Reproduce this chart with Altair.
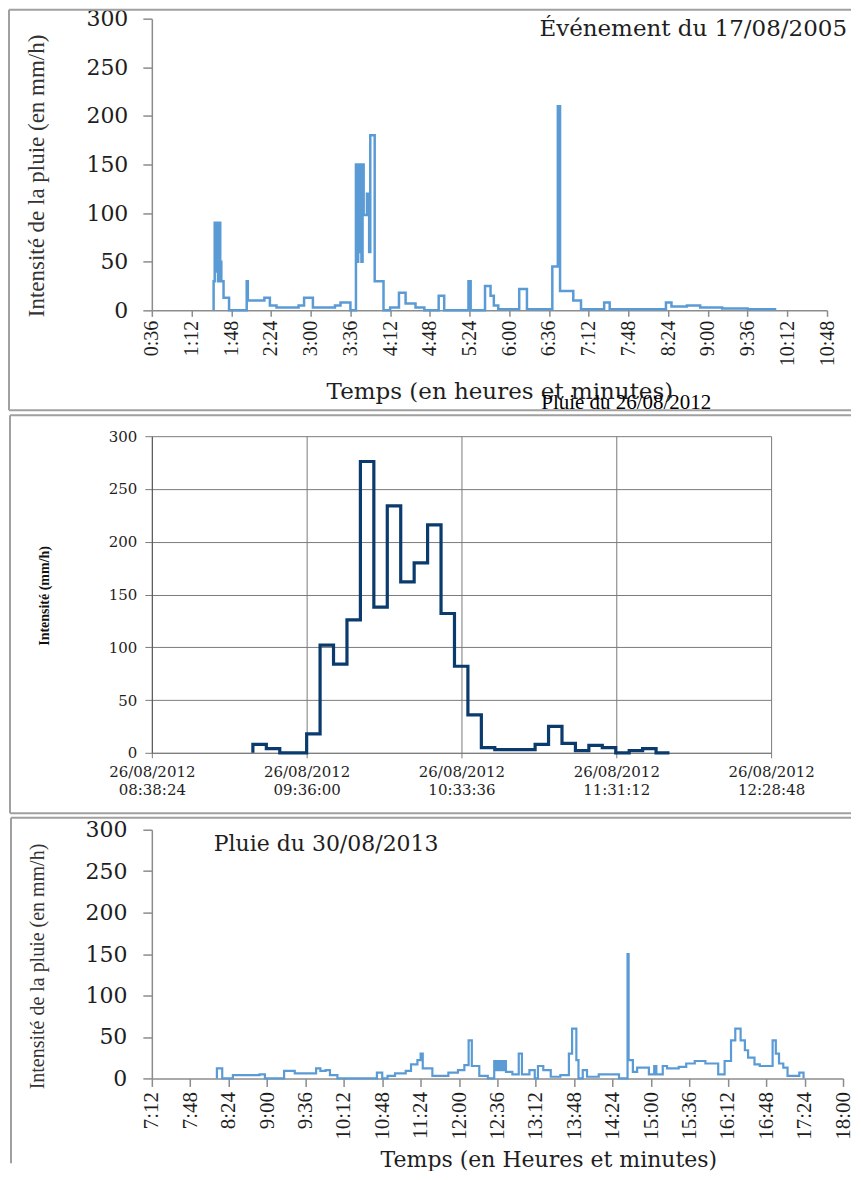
import altair as alt
import pandas as pd

# ---------------- Panel 1 : Événement du 17/08/2005 ----------------
p1_times = ["1:32", "1:32", "1:33", "1:34", "1:35", "1:36", "1:37", "1:38", "1:39", "1:41", "1:46",
            "2:02", "2:03", "2:18", "2:23", "2:29", "2:49", "2:54", "3:02", "3:22", "3:27", "3:36",
            "3:41", "3:42", "3:43", "3:44", "3:45", "3:46", "3:47", "3:48", "3:51", "3:53", "3:54", "3:58", "4:06",
            "4:12", "4:20", "4:26", "4:35", "4:43", "4:56", "5:01", "5:23", "5:25", "5:38", "5:43", "5:46", "5:50",
            "6:09", "6:16", "6:39", "6:44", "6:46", "6:58", "7:05", "7:26", "7:31", "8:22", "8:27", "8:41", "8:53",
            "9:13", "9:36", "10:02"]
p1_values = [0, 30, 90, 40, 90, 30, 90, 50, 30, 13, 0,
             30, 10, 13, 5, 3, 5, 13, 3, 5, 8, 0,
             150, 50, 150, 60, 150, 50, 150, 98, 120, 60, 180, 30, 0,
             3, 18, 7, 3, 0, 15, 0, 30, 0, 25, 15, 5, 1,
             22, 1, 45, 210, 20, 10, 1, 8, 1, 8, 4, 5, 3,
             2, 1, 1]
p1_ticks = ["0:36", "1:12", "1:48", "2:24", "3:00", "3:36", "4:12", "4:48", "5:24", "6:00",
            "6:36", "7:12", "7:48", "8:24", "9:00", "9:36", "10:12", "10:48"]
p1_title = "Événement du 17/08/2005"
p1_ytitle = "Intensité de la pluie (en mm/h)"
p1_xtitle = "Temps (en heures et minutes)"

# ---------------- Panel 2 : Pluie du 26/08/2012 ----------------
p2_times = ["09:16", "09:16", "09:21", "09:26", "09:31", "09:36", "09:41", "09:46", "09:51", "09:56",
            "10:01", "10:06", "10:11", "10:16", "10:21", "10:26", "10:31", "10:36", "10:41", "10:46",
            "10:51", "10:56", "11:01", "11:06", "11:11", "11:16", "11:21", "11:26", "11:31", "11:36",
            "11:41", "11:46", "11:51"]
p2_values = [0, 8, 4, 0, 0, 18, 102, 84, 126, 276,
             138, 234, 162, 180, 216, 132, 82, 36, 5, 3,
             3, 3, 8, 25, 9, 2, 7, 5, 0, 2,
             4, 0, 0]
p2_tick_times = ["08:38:24", "09:36:00", "10:33:36", "11:31:12", "12:28:48"]
p2_tick_date = "26/08/2012"
p2_title = "Pluie du 26/08/2012"
p2_ytitle = "Intensité (mm/h)"

# ---------------- Panel 3 : Pluie du 30/08/2013 ----------------
p3_times = ["8:13", "8:13", "8:18", "8:28", "8:53", "8:58", "9:16", "9:26", "9:46", "9:50", "9:55", "9:59",
            "10:06", "10:43", "10:48", "10:53", "11:00", "11:10", "11:15", "11:21", "11:24", "11:26", "11:35",
            "11:50", "11:59", "12:05", "12:09", "12:12", "12:19", "12:27", "12:33", "12:35", "12:36", "12:38",
            "12:39", "12:41", "12:42", "12:44", "12:50", "12:56", "12:59", "13:06", "13:11", "13:14", "13:19",
            "13:26", "13:35", "13:43", "13:46", "13:50", "13:52", "13:56", "14:00", "14:11", "14:30", "14:38",
            "14:39", "14:43", "14:47", "14:58", "15:03", "15:05", "15:11", "15:15", "15:26", "15:33", "15:41",
            "15:51", "16:03", "16:09", "16:15", "16:19", "16:24", "16:28", "16:31", "16:37", "16:42", "16:54",
            "16:57", "17:00", "17:04", "17:08", "17:19", "17:23"]
p3_values = [0, 12, 0, 4, 5, 0, 9, 6, 12, 9, 10, 4,
             0, 7, 0, 3, 6, 9, 17, 22, 30, 12, 3,
             7, 10, 16, 46, 15, 3, 0, 21, 10, 21, 10,
             21, 10, 21, 8, 5, 30, 5, 10, 0, 15, 10,
             2, 4, 30, 60, 22, 0, 10, 2, 5, 0, 150,
             22, 8, 13, 5, 15, 5, 15, 12, 14, 18, 21,
             18, 5, 21, 46, 60, 46, 34, 25, 17, 15, 46,
             30, 18, 13, 3, 7, 0]
p3_ticks = ["7:12", "7:48", "8:24", "9:00", "9:36", "10:12", "10:48", "11:24", "12:00", "12:36",
            "13:12", "13:48", "14:24", "15:00", "15:36", "16:12", "16:48", "17:24", "18:00"]
p3_title = "Pluie du 30/08/2013"
p3_ytitle = "Intensité de la pluie  (en mm/h)"
p3_xtitle = "Temps  (en Heures et minutes)"

y_ticks = [0, 50, 100, 150, 200, 250, 300]


def to_min(s):
    parts = [int(p) for p in s.split(":")]
    while len(parts) < 3:
        parts.append(0)
    return parts[0] * 60 + parts[1] + parts[2] / 60.0


def label_expr(values, labels):
    expr = "''"
    for v, lab in reversed(list(zip(values, labels))):
        expr = f"abs(datum.value - {v}) < 0.01 ? {lab} : {expr}"
    return expr


dummy = pd.DataFrame({"d": [0]})
BORDER = "#a0a0a0"
TXT = "#1e1e1e"
RIGHT = 700  # right end of the panel frames (plot-relative px)


def hline(x1, x2, y):
    return alt.Chart(dummy).mark_rule(color=BORDER, strokeWidth=2).encode(
        x=alt.value(x1), x2=alt.value(x2), y=alt.value(y))


def vline(x, y1, y2):
    return alt.Chart(dummy).mark_rule(color=BORDER, strokeWidth=2).encode(
        x=alt.value(x), y=alt.value(y1), y2=alt.value(y2))


def text(txt, x, y, size, font, align="left", color=TXT, angle=0, weight="normal"):
    return alt.Chart(dummy).mark_text(text=txt, font=font, fontSize=size, align=align, angle=angle,
                                      fontWeight=weight, baseline="middle", color=color).encode(
        x=alt.value(x), y=alt.value(y))


def spacer(h):
    return alt.Chart(dummy).mark_text(text="").encode(
        x=alt.value(0), y=alt.value(0)).properties(width=10, height=h)


AX = "#8c8c8c"
BLUE = "#5b9bd5"

# ---------------- Panel 1 chart ----------------
W1, H1 = 676, 292
df1 = pd.DataFrame({"t": [to_min(s) for s in p1_times], "v": p1_values, "i": range(len(p1_times))})
p1_vals = [to_min(s) for s in p1_ticks]
line1 = alt.Chart(df1).mark_line(interpolate="step-after", color=BLUE, strokeWidth=2.5).encode(
    x=alt.X("t:Q", scale=alt.Scale(domain=[p1_vals[0], p1_vals[-1]], nice=False, zero=False),
            axis=alt.Axis(values=p1_vals, labelExpr=label_expr(p1_vals, [f"'{s}'" for s in p1_ticks]),
                          labelAngle=270, labelAlign="right", labelBaseline="middle",
                          labelFont="Liberation Serif", labelFontSize=20, labelColor=TXT,
                          labelPadding=4, labelFlush=False, labelOverlap=False, labelBound=False,
                          tickSize=6, tickColor=AX, tickWidth=1.5, domainColor=AX, domainWidth=1.5, grid=False,
                          title=p1_xtitle, titleFont="DejaVu Serif", titleFontSize=23,
                          titleFontWeight="normal", titleColor=TXT, titleX=348, titleY=81,
                          titleAlign="center", titleBaseline="middle", titleAngle=0)),
    y=alt.Y("v:Q", scale=alt.Scale(domain=[0, 300], nice=False),
            axis=alt.Axis(values=y_ticks, labelFont="DejaVu Serif", labelFontSize=22, labelColor=TXT,
                          labelBaseline="middle",
                          labelPadding=15, tickSize=9, tickColor=AX, tickWidth=1.5, domainColor=AX,
                          domainWidth=1.5, grid=False, labelOverlap=False, labelFlush=False, title=None)),
    order="i:Q")
panel1 = alt.layer(
    line1,
    hline(-143, RIGHT, -9), vline(-143, -9, 392), hline(-143, RIGHT, 392),
    text(p1_ytitle, -115, 16, 23, "Liberation Serif", align="right", angle=270, color="#333333"),
    text(p1_title, 696, 10, 23, "DejaVu Serif", align="right"),
).properties(width=W1, height=H1)

# ---------------- Panel 2 chart ----------------
W2, H2 = 620, 317
df2 = pd.DataFrame({"t": [to_min(s) for s in p2_times], "v": p2_values, "i": range(len(p2_times))})
p2_vals = [to_min(s) for s in p2_tick_times]
GRID = "#7a7a7a"
line2 = alt.Chart(df2).mark_line(interpolate="step-after", color="#0b3b6c", strokeWidth=3.2).encode(
    x=alt.X("t:Q", scale=alt.Scale(domain=[p2_vals[0], p2_vals[-1]], nice=False, zero=False),
            axis=alt.Axis(values=p2_vals,
                          labelExpr=label_expr(p2_vals, [f"['{p2_tick_date}', '{s}']" for s in p2_tick_times]),
                          labelFont="DejaVu Serif", labelFontSize=15, labelColor=TXT, labelLineHeight=18,
                          labelPadding=7, labelFlush=False, labelOverlap=False, labelBound=False,
                          tickSize=5, tickColor=GRID, domainColor=GRID, grid=True, gridColor=GRID,
                          gridWidth=1, title=None)),
    y=alt.Y("v:Q", scale=alt.Scale(domain=[0, 300], nice=False),
            axis=alt.Axis(values=y_ticks, labelFont="DejaVu Serif", labelFontSize=15, labelColor=TXT,
                          labelBaseline="middle",
                          labelPadding=8, tickSize=7, tickColor=GRID, domainColor="#555555", grid=True,
                          gridColor=GRID, gridWidth=1, labelOverlap=False, labelFlush=False, title=None)),
    order="i:Q")
panel2 = alt.layer(
    line2,
    hline(-142, RIGHT, -21), vline(-142, -21, 377.5), hline(-142, RIGHT, 377.5),
    text(p2_ytitle, -107, 110, 14, "Liberation Serif", align="right", angle=270, color="#111111",
         weight="bold"),
    text(p2_title, 475, -33, 21, "Liberation Serif", align="center", color="#000000"),
).properties(width=W2, height=H2)

# ---------------- Panel 3 chart ----------------
W3, H3 = 692, 249
df3 = pd.DataFrame({"t": [to_min(s) for s in p3_times], "v": p3_values, "i": range(len(p3_times))})
p3_vals = [to_min(s) for s in p3_ticks]
line3 = alt.Chart(df3).mark_line(interpolate="step-after", color=BLUE, strokeWidth=2.2).encode(
    x=alt.X("t:Q", scale=alt.Scale(domain=[p3_vals[0], p3_vals[-1]], nice=False, zero=False),
            axis=alt.Axis(values=p3_vals, labelExpr=label_expr(p3_vals, [f"'{s}'" for s in p3_ticks]),
                          labelAngle=270, labelAlign="right", labelBaseline="middle",
                          labelFont="Liberation Serif", labelFontSize=21, labelColor=TXT,
                          labelPadding=5, labelFlush=False, labelOverlap=False, labelBound=False,
                          tickSize=8, tickColor=AX, tickWidth=1.5, domainColor=AX, domainWidth=1.5, grid=False,
                          title=p3_xtitle, titleFont="DejaVu Serif", titleFontSize=22,
                          titleFontWeight="normal", titleColor=TXT, titleX=397, titleY=81,
                          titleAlign="center", titleBaseline="middle", titleAngle=0)),
    y=alt.Y("v:Q", scale=alt.Scale(domain=[0, 300], nice=False),
            axis=alt.Axis(values=y_ticks, labelFont="DejaVu Serif", labelFontSize=22, labelColor=TXT,
                          labelBaseline="middle",
                          labelPadding=16, tickSize=9, tickColor=AX, tickWidth=1.5, domainColor=AX,
                          domainWidth=1.5, grid=False, labelOverlap=False, labelFlush=False, title=None)),
    order="i:Q")
panel3 = alt.layer(
    line3,
    hline(-141, RIGHT, -12), vline(-141, -12, 334),
    text(p3_ytitle, -114, 14, 20, "Liberation Serif", align="right", angle=270, color="#333333"),
    text(p3_title, 62, 14, 22, "DejaVu Serif", align="left"),
).properties(width=W3, height=H3)

chart = alt.vconcat(
    panel1, spacer(126), panel2, spacer(77), panel3,
    spacing=0, bounds="flush",
).resolve_scale(x="independent", y="independent").properties(
    padding={"top": -1, "left": 0, "right": 0, "bottom": 0}, background="white"
).configure_view(stroke=None)

chart.save("out.html", embed_options={"renderer": "svg", "actions": False})
